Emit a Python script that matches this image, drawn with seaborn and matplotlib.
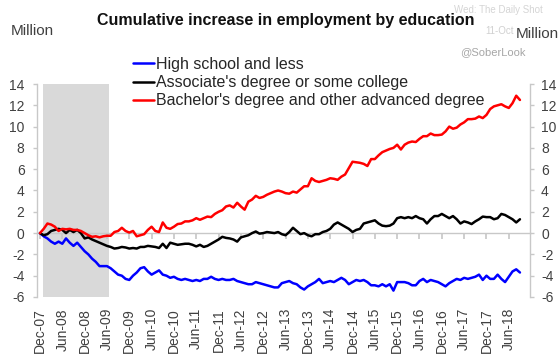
import matplotlib
matplotlib.use("Agg")
import matplotlib.pyplot as plt
import numpy as np
import pandas as pd
import seaborn as sns

# Monthly cumulative change in employment since Dec-2007 (millions)
months = pd.date_range("2007-12-01", "2018-09-01", freq="MS")

high_school = [
    0.0, -0.3, -0.5, -0.8, -1.0, -0.8, -1.0, -0.5, -0.9, -1.2,
    -0.9, -1.3, -1.7, -2.0, -2.4, -2.7, -3.1, -3.1, -3.1, -3.3,
    -3.6, -3.9, -4.0, -4.3, -4.4, -4.0, -3.7, -3.3, -3.2, -3.6,
    -3.9, -3.7, -3.5, -3.9, -4.0, -4.2, -4.1, -4.3, -4.4, -4.3,
    -4.4, -4.5, -4.4, -4.5, -4.3, -4.3, -4.1, -4.3, -4.4, -4.3,
    -4.4, -4.4, -4.3, -4.5, -4.6, -4.7, -4.8, -4.8, -4.6, -4.7,
    -4.8, -4.9, -5.0, -5.1, -5.1, -4.7, -4.6, -4.5, -4.7, -4.8,
    -5.1, -5.3, -5.0, -4.8, -4.6, -4.3, -4.7, -4.6, -4.5, -4.6,
    -4.4, -4.2, -4.4, -4.8, -4.6, -4.4, -4.5, -4.4, -4.6, -4.9,
    -4.9, -5.0, -4.8, -5.0, -4.8, -5.4, -4.6, -4.6, -4.6, -4.7,
    -4.9, -4.9, -4.5, -4.3, -4.6, -4.4, -4.5, -4.6, -4.8, -5.0,
    -4.7, -4.5, -4.3, -4.4, -4.2, -4.3, -4.2, -4.1, -3.9, -4.4,
    -4.0, -4.3, -4.3, -3.9, -4.3, -4.6, -4.1, -3.6, -3.4, -3.7,
]

some_college = [
    0.0, -0.2, -0.1, 0.2, 0.3, 0.4, 0.3, 0.0, 0.3, 0.1,
    0.3, 0.0, -0.5, -0.4, -0.6, -0.75, -0.9, -1.05, -1.2, -1.3,
    -1.45, -1.4, -1.3, -1.35, -1.45, -1.4, -1.45, -1.3, -1.3, -1.2,
    -1.25, -1.3, -1.4, -1.0, -1.4, -0.9, -1.0, -1.1, -1.05, -1.0,
    -1.0, -1.1, -1.25, -1.1, -1.3, -1.2, -1.0, -0.8, -0.6, -0.35,
    -0.45, -0.5, -0.6, -0.8, -0.4, -0.3, -0.2, 0.0, 0.15, -0.05,
    0.0, 0.1, 0.05, 0.0, 0.1, -0.1, -0.2, 0.1, 0.5, 0.2,
    -0.1, 0.0, -0.2, -0.3, -0.1, -0.1, 0.1, 0.2, 0.4, 0.8,
    1.0, 0.8, 0.6, 0.4, 0.1, 0.3, 0.4, 0.9, 1.0, 1.1,
    1.2, 0.9, 0.7, 0.65, 0.7, 0.9, 1.4, 1.5, 1.4, 1.5,
    1.4, 1.6, 1.4, 1.3, 0.9, 1.3, 1.6, 1.6, 1.8, 1.6,
    1.4, 1.6, 1.3, 0.9, 1.1, 1.0, 0.85, 1.1, 1.3, 1.55,
    1.5, 1.5, 1.3, 1.4, 1.8, 1.7, 1.5, 1.3, 1.0, 1.3,
]

bachelors = [
    0.0, 0.4, 0.9, 0.8, 0.6, 0.2, 0.4, 0.35, 0.4, 0.3,
    0.3, 0.2, 0.0, -0.2, -0.35, -0.3, -0.4, -0.3, -0.25, -0.25,
    0.1, 0.2, 0.5, 0.2, 0.05, 0.2, -0.3, -0.2, -0.1, 0.3,
    0.6, 0.2, 0.1, 1.0, 0.5, 0.4, 0.6, 0.85, 0.9, 1.1,
    1.1, 1.2, 1.4, 1.25, 1.4, 1.55, 1.5, 1.8, 2.0, 2.15,
    2.5, 2.6, 2.4, 2.85, 2.5, 2.2, 2.95, 3.15, 3.5, 3.3,
    3.4, 3.6, 3.75, 3.9, 4.0, 3.9, 3.75, 3.7, 3.9, 3.8,
    4.1, 4.4, 4.4, 5.15, 4.9, 4.8, 4.9, 5.0, 5.15, 5.1,
    5.0, 5.3, 5.5, 6.1, 6.7, 6.65, 6.6, 6.5, 6.3, 6.95,
    6.95, 7.3, 7.6, 7.75, 7.9, 8.0, 8.3, 7.85, 8.3, 8.5,
    8.6, 8.55, 8.85, 9.1, 9.1, 9.35, 9.2, 9.2, 9.25, 9.55,
    10.0, 9.8, 9.9, 10.2, 10.4, 10.7, 10.7, 10.75, 10.95, 10.8,
    11.1, 11.65, 11.9, 12.0, 12.1, 11.9, 11.75, 12.2, 12.9, 12.5,
]

series_names = [
    "High school and less",
    "Associate's degree or some college",
    "Bachelor's degree and other advanced degree",
]
series_colors = ["#0000ff", "#000000", "#ff0000"]

tick_labels = [
    "Dec-07", "Jun-08", "Dec-08", "Jun-09", "Dec-09", "Jun-10", "Dec-10",
    "Jun-11", "Dec-11", "Jun-12", "Dec-12", "Jun-13", "Dec-13", "Jun-14",
    "Dec-14", "Jun-15", "Dec-15", "Jun-16", "Dec-16", "Jun-17", "Dec-17",
    "Jun-18",
]
y_ticks = [-6, -4, -2, 0, 2, 4, 6, 8, 10, 12, 14]

recession_start = "2008-01"
recession_end = "2009-06"

# ---- data frame in long form, x is the month index ----
idx = np.arange(len(months))
df = pd.DataFrame({
    "month": np.tile(idx, 3),
    "value": np.concatenate([high_school, some_college, bachelors]),
    "series": np.repeat(series_names, len(months)),
})

sns.set_theme(style="white")
plt.rcParams["font.family"] = ["Liberation Sans", "DejaVu Sans"]
plt.rcParams["axes.unicode_minus"] = False

label_col = "#404040"
axis_col = "#c8c8c8"
line_w = 1.8

fig = plt.figure(figsize=(5.6, 3.54), dpi=100)
fig.patch.set_facecolor("white")
ax = fig.add_axes([37 / 560, 1 - 297 / 354, (530 - 37) / 560, (297 - 84) / 354])

# recession shading
month_str = list(months.strftime("%Y-%m"))
r0 = month_str.index(recession_start)
r1 = month_str.index(recession_end)
ax.axvspan(r0 - 0.2, r1 + 0.5, color="#d9d9d9", lw=0, zorder=0)

sns.lineplot(
    data=df, x="month", y="value", hue="series",
    palette=dict(zip(series_names, series_colors)),
    hue_order=series_names, linewidth=line_w, ax=ax, legend=False, zorder=3,
)

ax.set_xlim(-0.8, 131.7)
ax.set_ylim(y_ticks[0], y_ticks[-1])
ax.set_xlabel("")
ax.set_ylabel("")

# x tick positions from the labels
label_dates = pd.to_datetime(tick_labels, format="%b-%y")
tick_pos = [list(months).index(d) for d in label_dates]
ax.set_xticks(tick_pos)
ax.set_xticklabels(tick_labels, rotation=90, fontsize=10, color=label_col)
ax.tick_params(axis="x", length=0, pad=8)

ax.set_yticks(y_ticks)
ax.set_yticklabels([str(v) for v in y_ticks], fontsize=10, color=label_col)
ax.tick_params(axis="y", direction="out", length=3, color=axis_col, width=1,
               pad=6, left=True)

for s in ["top", "bottom", "right"]:
    ax.spines[s].set_visible(False)
ax.spines["left"].set_color(axis_col)
ax.spines["left"].set_linewidth(1)

# right-hand axis mirroring the left one
ax2 = ax.twinx()
ax2.set_ylim(ax.get_ylim())
ax2.set_yticks(y_ticks)
ax2.set_yticklabels([str(v) for v in y_ticks], fontsize=10, color=label_col)
ax2.tick_params(axis="y", direction="out", length=3, color=axis_col, width=1,
                pad=5, right=True)
for s in ["top", "bottom", "left"]:
    ax2.spines[s].set_visible(False)
ax2.spines["right"].set_color(axis_col)
ax2.spines["right"].set_linewidth(1)
ax2.grid(False)

# horizontal category axis crossing at zero
zero_frac = (0 - y_ticks[0]) / (y_ticks[-1] - y_ticks[0])
sec = ax.secondary_xaxis(zero_frac)
sec.set_xticks(tick_pos)
sec.tick_params(axis="x", direction="out", length=4, color=axis_col,
                labelbottom=False, labeltop=False)
sec.spines["bottom"].set_color(axis_col)
sec.spines["bottom"].set_linewidth(1)
for s in ["top", "left", "right"]:
    sec.spines[s].set_visible(False)

# legend
handles = [plt.Line2D([], [], color=c, lw=line_w) for c in series_colors]
fig.legend(handles, series_names, loc="upper left",
           bbox_to_anchor=(133 / 560, 1 - 57 / 354), frameon=False,
           fontsize=11.5, handlelength=1.3, handletextpad=0.15,
           labelspacing=0.2, borderpad=0, borderaxespad=0,
           labelcolor="#262626")

# titles and axis units
fig.text(286 / 560, 1 - 21 / 354, "Cumulative increase in employment by education",
         ha="center", va="center", fontsize=11.5, fontweight="bold", color="#111111")
fig.text(11 / 560, 1 - 31 / 354, "Million", ha="left", va="center",
         fontsize=11, color=label_col)

# source marks
fig.text(498 / 560, 1 - 10 / 354, "Wed: The Daily Shot", ha="center", va="center",
         fontsize=7, color="#d5d5d5")
fig.text(500 / 560, 1 - 31 / 354, "11-Oct", ha="center", va="center",
         fontsize=7, color="#d0d0d0")
fig.text(559 / 560, 1 - 34 / 354, "Million", ha="right", va="center",
         fontsize=11, color=label_col)
fig.text(493 / 560, 1 - 52 / 354, "@SoberLook", ha="center", va="center",
         fontsize=8, color="#a6a6a6")

fig.savefig("out.png", dpi=100, facecolor="white")
